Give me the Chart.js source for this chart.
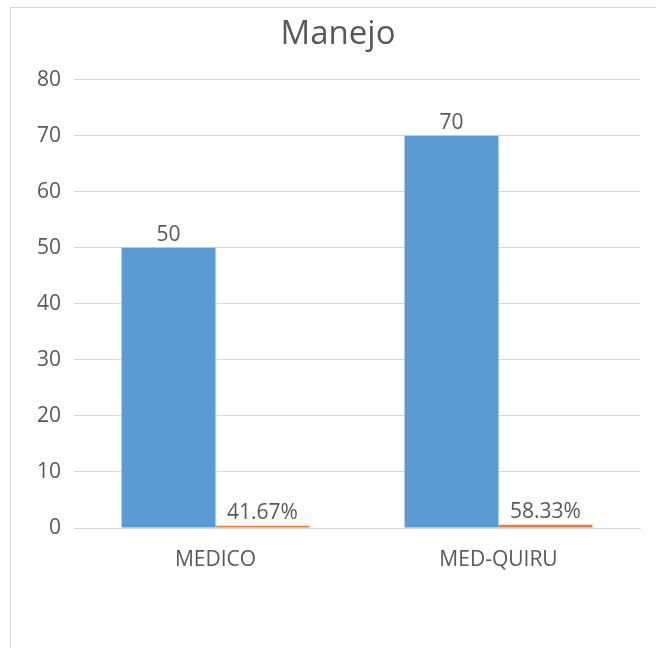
<!DOCTYPE html>
<html>
<head>
<meta charset="utf-8">
<script src="https://cdn.jsdelivr.net/npm/chart.js@4"></script>
<style>
  body { margin: 0; background: #fff; }
  #marco { position: absolute; left: 10px; top: 7px; width: 800px; height: 800px; border: 1px solid #d9d9d9; }
  #cvs_manejo { position: absolute; left: 0; top: 0; }
</style>
</head>
<body>
<div id="marco"></div>
<canvas id="cvs_manejo" width="656" height="648"></canvas>
<script>
// dados do gráfico
const categorias = ["MEDICO", "MED-QUIRU"];
const cantidad = [50, 70];
const porcentaje = [0.4167, 0.5833];

const GraficoManejo = document.getElementById("cvs_manejo");
const corTexto = "#595959";
const fonte = "'Open Sans'";

// escreve o valor em cima de cada barra
const rotulos = {
  id: "rotulos",
  afterDatasetsDraw(chart) {
    const ctx = chart.ctx;
    ctx.save();
    ctx.font = "21px " + fonte;
    ctx.fillStyle = corTexto;
    ctx.textAlign = "center";
    ctx.textBaseline = "bottom";
    chart.data.datasets.forEach(function (ds, i) {
      chart.getDatasetMeta(i).data.forEach(function (bar, j) {
        var v = ds.data[j];
        var texto = i == 1 ? (v * 100).toFixed(2) + "%" : String(v);
        ctx.fillText(texto, bar.x, bar.y - 2);
      });
    });
    ctx.restore();
  },
};

new Chart(GraficoManejo, {
  type: "bar",
  data: {
    labels: categorias,
    datasets: [
      {
        label: "Cantidad",
        data: cantidad,
        backgroundColor: "#5B9BD5",
        categoryPercentage: 0.664,
        barPercentage: 1,
      },
      {
        label: "Porcentaje",
        data: porcentaje,
        backgroundColor: "#ED7D31",
        categoryPercentage: 0.664,
        barPercentage: 1,
      },
    ],
  },
  options: {
    responsive: false,
    animation: false,
    layout: { padding: { left: 20, right: 0, top: 0, bottom: 76 } },
    plugins: {
      legend: { display: false },
      tooltip: { enabled: false },
      title: {
        display: true,
        text: "Manejo",
        color: corTexto,
        font: { size: 33, family: fonte, weight: "normal", lineHeight: 1.2 },
        padding: { top: 15, bottom: 25 },
      },
    },
    scales: {
      x: {
        grid: { display: false, drawTicks: false },
        border: { color: "#d9d9d9" },
        ticks: { color: corTexto, font: { size: 21, family: fonte }, padding: 19 },
        afterFit: function (s) { s.height = 44; },
      },
      y: {
        min: 0,
        max: 80,
        ticks: { stepSize: 10, color: corTexto, font: { size: 21, family: fonte }, padding: 13 },
        grid: { color: "#d9d9d9", lineWidth: 1, drawTicks: false },
        border: { display: false },
        afterFit: function (s) { s.width = 54; },
      },
      // eixo vazio só para deixar a margem direita
      margem: {
        position: "right",
        ticks: { display: false },
        grid: { display: false, drawTicks: false },
        border: { display: false },
        afterFit: function (s) { s.width = 16; },
      },
    },
  },
  plugins: [rotulos],
});
</script>
</body>
</html>
